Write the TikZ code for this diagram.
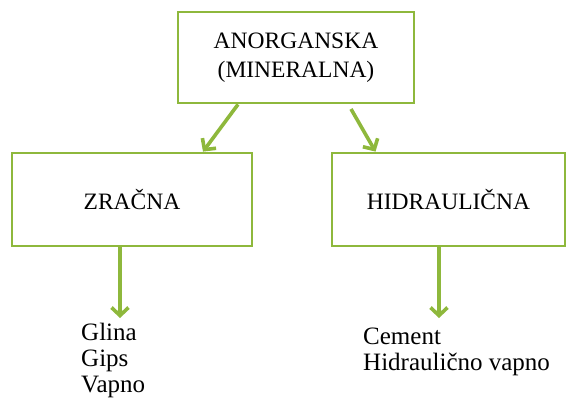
\documentclass[tikz,border=0pt]{standalone}
\usepackage{fontspec}
\setmainfont{Liberation Serif}
\usetikzlibrary{arrows.meta}
\definecolor{olive}{HTML}{8EB83C}
\begin{document}
\begin{tikzpicture}[x=1pt,y=-1pt,
  box/.style={draw=olive,line width=2.8pt,rectangle,inner sep=0pt,font=\fontsize{23.5}{29}\selectfont,align=center},
  conn/.style={draw=olive,line width=3.6pt,-{Straight Barb[length=8pt,width=17pt]}},
  lst/.style={font=\fontsize{25}{26}\selectfont,align=left,anchor=north west,inner sep=0pt}]
\useasboundingbox (0,0) rectangle (568,407);
\node[box,minimum width=236pt,minimum height=91pt] (top) at (296,57.5) {ANORGANSKA\\(MINERALNA)};
\node[box,minimum width=240pt,minimum height=93pt] (zr) at (132,199.5) {ZRAČNA};
\node[box,minimum width=233pt,minimum height=93pt] (hi) at (448.5,199.5) {HIDRAULIČNA};
\coordinate (a1) at ([xshift=-58pt]top.south);
\coordinate (b1) at ([xshift=71pt]zr.north);
\coordinate (a2) at (351,109);
\coordinate (b2) at ([xshift=-73pt]hi.north);
\coordinate (c1) at (120,246);
\coordinate (d1) at (120,318);
\coordinate (c2) at (439,246);
\coordinate (d2) at (439,318);
\draw[conn] (a1) -- (b1);
\draw[conn] (a2) -- (b2);
\draw[conn] (c1) -- (d1);
\draw[conn] (c2) -- (d2);
\node[lst] (l1) at (81,323) {Glina\\Gips\\Vapno};
\node[lst] (l2) at (363,328) {Cement\\Hidraulično vapno};
\end{tikzpicture}
\end{document}
